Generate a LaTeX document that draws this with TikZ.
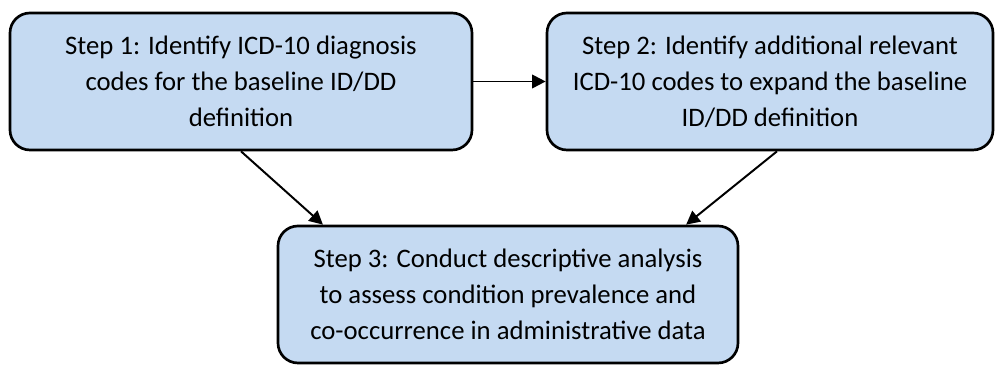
\documentclass[tikz,border=0pt]{standalone}
\usepackage{fontspec}
\setmainfont{Carlito}
\usetikzlibrary{arrows.meta}
\usetikzlibrary{calc}
\definecolor{stepfill}{RGB}{197,218,242}
\tikzset{stepbox/.style={draw=black, line width=1.9pt, fill=stepfill,
  rounded corners=0.5cm, minimum width=#1, minimum height=3.425cm,
  align=center, inner sep=0pt,
  font=\fontsize{19}{25.6}\selectfont}}
\tikzset{flow/.style={line width=1.4pt, -{Triangle[length=0.34cm, width=0.34cm]}}}

\begin{document}
\begin{tikzpicture}
      \useasboundingbox (0, 0) rectangle (24.875, 9.25);

      \node [stepbox=11.55cm] (s1) at (6.025, 7.2125) {Step 1: Identify ICD-10 diagnosis\\codes for the baseline ID/DD\\definition};
      \node [stepbox=11.15cm] (s2) at (19.25, 7.2125) {Step 2: Identify additional relevant\\ICD-10 codes to expand the baseline\\ID/DD definition};
      \node [stepbox=11.5cm] (s3) at (12.7, 1.8875) {Step 3: Conduct descriptive analysis\\to assess condition prevalence and\\co-occurrence in administrative data};

      \coordinate (in1) at ($(s3.north west)!0.1!(s3.north east)$);
      \coordinate (in2) at ($(s3.north west)!0.885!(s3.north east)$);

      \draw [flow] (s1) -- (s2);
      \draw [flow] (s1.south) -- (in1);
      \draw [flow] ([xshift=0.175cm]s2.south) -- (in2);
    \end{tikzpicture}
\end{document}
